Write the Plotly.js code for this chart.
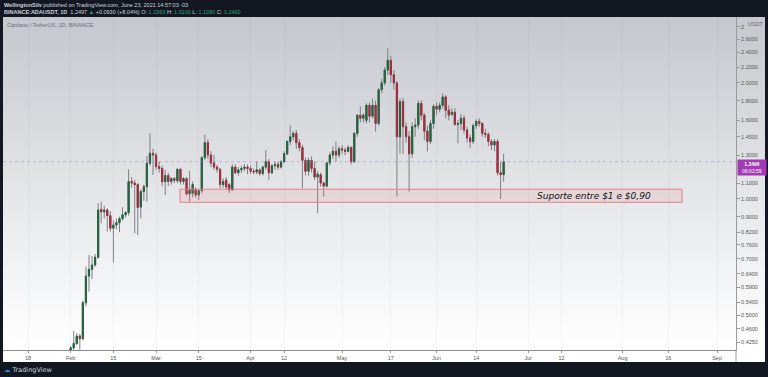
<!DOCTYPE html>
<html>
<head>
<meta charset="utf-8">
<script src="https://cdn.plot.ly/plotly-3.0.1.min.js"></script>
<style>
html,body{margin:0;padding:0;background:#131722;width:768px;height:377px;overflow:hidden;}
#pane{position:absolute;left:3px;top:17px;width:762px;height:345px;
background:linear-gradient(to bottom,#c4c7cd 0%,#dadce0 35%,#edeef0 65%,#ffffff 96%);}
#chart{position:absolute;left:0;top:0;width:768px;height:377px;}
</style>
</head>
<body>
<div id="pane"></div>
<div id="chart"></div>
<script>
const dates = [
'2021-02-01','2021-02-02','2021-02-03','2021-02-04','2021-02-05','2021-02-06','2021-02-07','2021-02-08','2021-02-09','2021-02-10',
'2021-02-11','2021-02-12','2021-02-13','2021-02-14','2021-02-15','2021-02-16','2021-02-17','2021-02-18','2021-02-19','2021-02-20',
'2021-02-21','2021-02-22','2021-02-23','2021-02-24','2021-02-25','2021-02-26','2021-02-27','2021-02-28',
'2021-03-01','2021-03-02','2021-03-03','2021-03-04','2021-03-05','2021-03-06','2021-03-07','2021-03-08','2021-03-09','2021-03-10',
'2021-03-11','2021-03-12','2021-03-13','2021-03-14','2021-03-15','2021-03-16','2021-03-17','2021-03-18','2021-03-19','2021-03-20',
'2021-03-21','2021-03-22','2021-03-23','2021-03-24','2021-03-25','2021-03-26','2021-03-27','2021-03-28','2021-03-29','2021-03-30','2021-03-31',
'2021-04-01','2021-04-02','2021-04-03','2021-04-04','2021-04-05','2021-04-06','2021-04-07','2021-04-08','2021-04-09','2021-04-10',
'2021-04-11','2021-04-12','2021-04-13','2021-04-14','2021-04-15','2021-04-16','2021-04-17','2021-04-18','2021-04-19','2021-04-20',
'2021-04-21','2021-04-22','2021-04-23','2021-04-24','2021-04-25','2021-04-26','2021-04-27','2021-04-28','2021-04-29','2021-04-30',
'2021-05-01','2021-05-02','2021-05-03','2021-05-04','2021-05-05','2021-05-06','2021-05-07','2021-05-08','2021-05-09','2021-05-10',
'2021-05-11','2021-05-12','2021-05-13','2021-05-14','2021-05-15','2021-05-16','2021-05-17','2021-05-18','2021-05-19','2021-05-20',
'2021-05-21','2021-05-22','2021-05-23','2021-05-24','2021-05-25','2021-05-26','2021-05-27','2021-05-28','2021-05-29','2021-05-30','2021-05-31',
'2021-06-01','2021-06-02','2021-06-03','2021-06-04','2021-06-05','2021-06-06','2021-06-07','2021-06-08','2021-06-09','2021-06-10',
'2021-06-11','2021-06-12','2021-06-13','2021-06-14','2021-06-15','2021-06-16','2021-06-17','2021-06-18','2021-06-19','2021-06-20',
'2021-06-21','2021-06-22','2021-06-23'];

const openPrices = [
0.395,0.411,0.422,0.441,0.434,0.538,0.631,0.657,0.674,0.706,
0.940,0.926,0.936,0.905,0.840,0.856,0.868,0.889,0.910,0.922,
1.109,1.100,1.090,0.953,1.045,1.076,1.238,1.314,
1.300,1.213,1.200,1.109,1.150,1.110,1.130,1.115,1.194,1.110,
1.130,1.030,1.035,1.060,1.024,1.050,1.280,1.400,1.300,1.240,
1.210,1.195,1.090,1.120,1.090,1.055,1.210,1.170,1.190,1.200,1.210,
1.200,1.180,1.175,1.190,1.165,1.210,1.250,1.170,1.220,1.230,
1.210,1.250,1.310,1.410,1.450,1.480,1.400,1.360,1.260,1.180,
1.260,1.200,1.140,1.155,1.100,1.080,1.240,1.300,1.330,1.300,
1.350,1.340,1.330,1.360,1.250,1.480,1.650,1.620,1.600,1.750,
1.640,1.750,1.570,1.920,2.000,2.160,2.290,2.100,2.000,1.450,
1.790,1.540,1.450,1.310,1.540,1.555,1.770,1.650,1.500,1.410,1.570,
1.740,1.710,1.750,1.840,1.700,1.660,1.680,1.560,1.570,1.620,
1.510,1.440,1.410,1.550,1.590,1.570,1.480,1.470,1.410,1.380,
1.410,1.170,1.1563];

const highPrices = [
0.415,0.455,0.449,0.447,0.545,0.667,0.716,0.711,0.720,0.975,
0.984,0.960,0.946,0.930,0.880,0.890,0.900,0.952,0.930,1.194,
1.140,1.120,1.100,1.060,1.090,1.293,1.481,1.350,
1.320,1.250,1.220,1.190,1.170,1.140,1.140,1.200,1.205,1.140,
1.140,1.184,1.110,1.070,1.060,1.290,1.470,1.430,1.330,1.300,
1.225,1.200,1.130,1.140,1.100,1.230,1.230,1.210,1.220,1.230,1.230,
1.220,1.200,1.250,1.200,1.220,1.340,1.270,1.230,1.250,1.250,
1.260,1.330,1.420,1.556,1.500,1.510,1.430,1.380,1.280,1.280,
1.290,1.250,1.180,1.170,1.110,1.250,1.320,1.370,1.410,1.370,
1.380,1.360,1.380,1.370,1.490,1.660,1.740,1.670,1.770,1.780,
1.820,1.800,1.940,2.050,2.200,2.460,2.350,2.160,2.020,1.820,
1.830,1.580,1.500,1.580,1.620,1.800,1.800,1.670,1.550,1.600,1.760,
1.780,1.780,1.880,1.860,1.750,1.720,1.720,1.600,1.660,1.650,
1.540,1.470,1.570,1.610,1.620,1.580,1.520,1.490,1.430,1.430,
1.430,1.250,1.310];

const lowPrices = [
0.390,0.400,0.418,0.406,0.430,0.526,0.575,0.620,0.668,0.700,
0.865,0.890,0.823,0.823,0.684,0.835,0.820,0.880,0.895,0.905,
1.070,0.815,0.806,0.891,0.990,0.984,1.220,1.154,
1.190,1.170,1.080,1.024,1.080,1.090,1.100,1.100,1.090,1.090,
1.020,0.984,1.010,1.010,0.994,1.035,1.260,1.270,1.210,1.190,
1.170,1.065,1.070,1.060,1.035,1.050,1.160,1.150,1.170,1.180,1.160,
1.160,1.160,1.160,1.150,1.150,1.190,1.120,1.160,1.190,1.190,
1.200,1.240,1.300,1.380,1.420,1.350,1.330,1.066,1.150,1.150,
1.170,1.120,0.918,1.075,1.014,1.070,1.220,1.270,1.250,1.280,
1.310,1.300,1.320,1.230,1.240,1.450,1.580,1.580,1.570,1.580,
1.620,1.495,1.550,1.880,1.970,2.100,2.000,1.920,1.014,1.310,
1.310,1.400,1.045,1.280,1.450,1.520,1.600,1.420,1.330,1.390,1.520,
1.650,1.680,1.720,1.620,1.600,1.640,1.550,1.395,1.510,1.480,
1.400,1.354,1.390,1.520,1.540,1.450,1.440,1.370,1.340,1.330,
1.150,1.000,1.108];

const closePrices = [
0.411,0.422,0.441,0.434,0.538,0.631,0.657,0.674,0.706,0.936,
0.926,0.936,0.905,0.840,0.856,0.868,0.889,0.910,0.922,1.109,
1.100,1.090,0.951,1.045,1.076,1.238,1.314,1.300,
1.213,1.200,1.109,1.150,1.110,1.130,1.118,1.194,1.110,1.130,
1.030,1.060,1.090,1.024,1.050,1.280,1.400,1.300,1.240,1.210,
1.195,1.090,1.110,1.075,1.055,1.210,1.170,1.190,1.200,1.210,1.200,
1.180,1.175,1.190,1.165,1.210,1.250,1.170,1.220,1.230,1.210,
1.250,1.310,1.410,1.450,1.480,1.400,1.360,1.260,1.180,1.260,
1.200,1.140,1.160,1.100,1.080,1.240,1.300,1.330,1.300,1.350,
1.340,1.330,1.360,1.250,1.480,1.650,1.620,1.650,1.750,1.640,
1.750,1.570,1.920,2.000,2.160,2.290,2.100,2.000,1.450,1.790,
1.540,1.450,1.310,1.540,1.555,1.770,1.650,1.500,1.410,1.570,1.740,
1.710,1.750,1.840,1.700,1.650,1.680,1.560,1.570,1.620,1.510,
1.440,1.410,1.550,1.590,1.570,1.480,1.470,1.410,1.380,1.410,
1.170,1.156,1.249];

const xTickVals = ['2021-01-18','2021-02-01','2021-02-15','2021-03-01','2021-03-15','2021-04-01','2021-04-12','2021-05-01','2021-05-17','2021-06-01','2021-06-14','2021-07-01','2021-07-12','2021-08-01','2021-08-16','2021-09-01'];
const xTickText = ['18','Feb','15','Mar','15','Apr','12','May','17','Jun','14','Jul','12','Aug','16','Sep'];
const yTickVals = [0.425,0.46,0.5,0.54,0.59,0.64,0.70,0.76,0.82,0.90,1.0,1.1,1.3,1.45,1.6,1.8,2.0,2.2,2.4,2.6,2.8];
const yTickText = ['0.4250','0.4600','0.5000','0.5400','0.5900','0.6400','0.7000','0.7600','0.8200','0.9000','1.0000','1.1000','1.3000','1.4500','1.6000','1.8000','2.0000','2.2000','2.4000','2.6000','2'];

const lastPrice = 1.2496;
const supportLow = 0.9805, supportHigh = 1.06;

const GREEN = '#27633f', RED = '#a12d3d', WICK = '#7d7f84';
const bodyHigh = openPrices.map((o,i)=>Math.max(o,closePrices[i]));
const bodyLow = openPrices.map((o,i)=>Math.min(o,closePrices[i]));

const wicks = {
  type:'candlestick', x:dates, open:openPrices, high:highPrices, low:lowPrices, close:closePrices,
  increasing:{line:{color:WICK,width:1},fillcolor:WICK},
  decreasing:{line:{color:WICK,width:1},fillcolor:WICK},
  whiskerwidth:0, hoverinfo:'skip'
};
const bodies = {
  type:'candlestick', x:dates, open:openPrices, high:bodyHigh, low:bodyLow, close:closePrices,
  increasing:{line:{color:GREEN,width:1},fillcolor:GREEN},
  decreasing:{line:{color:RED,width:1},fillcolor:RED},
  whiskerwidth:0, hoverinfo:'skip'
};

const L = v=>Math.log10(v);
const Y0 = L(0.4057), Y1 = L(2.966);
const yPaper = v=>(L(v)-Y0)/(Y1-Y0);
const FONT = 'Liberation Sans, Arial, sans-serif';
const px2x = p=>(p-3)/733, px2y = p=>(350-p)/333;

const layout = {
  width:768, height:377,
  margin:{l:3,r:32,t:17,b:27,pad:0},
  paper_bgcolor:'rgba(0,0,0,0)', plot_bgcolor:'rgba(0,0,0,0)',
  showlegend:false, boxgap:0.45,
  font:{family:FONT,size:5.5,color:'#555'},
  xaxis:{type:'date', range:['2021-01-09 19:12','2021-09-07 05:00'],
    tickmode:'array', tickvals:xTickVals, ticktext:xTickText,
    ticks:'outside', ticklen:2, tickcolor:'#999', tickfont:{family:FONT,size:5.5,color:'#555'},
    showline:true, linecolor:'#8c8c8c', linewidth:1, showgrid:true, gridcolor:'rgba(0,0,0,0.035)',
    zeroline:false, rangeslider:{visible:false}, automargin:false, fixedrange:true},
  yaxis:{type:'log', side:'right', range:[Y0,Y1],
    tickmode:'array', tickvals:yTickVals, ticktext:yTickText,
    ticks:'outside', ticklen:3, tickcolor:'#999', tickfont:{family:FONT,size:5.5,color:'#555'},
    showline:true, linecolor:'#9a9a9a', linewidth:1, showgrid:false, zeroline:false,
    automargin:false, fixedrange:true},
  shapes:[
    {type:'rect', xref:'x', yref:'paper', x0:'2021-03-08 20:00', x1:'2021-08-20 12:00', y0:yPaper(supportLow), y1:yPaper(supportHigh),
     fillcolor:'rgba(236,120,130,0.15)', line:{color:'#e47f86',width:1}},
    {type:'line', xref:'paper', yref:'paper', x0:0, x1:1, y0:yPaper(lastPrice), y1:yPaper(lastPrice),
     line:{color:'rgba(165,125,195,0.5)',width:1,dash:'dot'}},
    {type:'line', xref:'paper', yref:'paper', x0:1, x1:1, y0:0, y1:px2y(362),
     line:{color:'#9a9a9a',width:1}}
  ],
  annotations:[
    {xref:'x', yref:'y', x:'2021-07-22 14:00', y:L(1.021), text:'Suporte entre $1 e $0,90', showarrow:false,
     font:{family:'DejaVu Sans, sans-serif', size:9, color:'#111111', style:'italic'}},
    {xref:'paper', yref:'y', x:1, y:L(lastPrice), xanchor:'left', yanchor:'top', yshift:3, xshift:0.5,
     text:'<b>1.2496</b><br>06:02:59', showarrow:false, bgcolor:'#a23bb4', borderpad:1, width:26, align:'center',
     font:{family:FONT,size:5,color:'#ffffff'}},
    {xref:'paper', yref:'paper', x:px2x(746), y:px2y(24), xanchor:'left', yanchor:'middle', text:'USDT',
     showarrow:false, font:{family:FONT,size:5.5,color:'#666'}},
    {xref:'paper', yref:'paper', x:px2x(5), y:px2y(25), xanchor:'left', yanchor:'middle',
     text:'Cardano / TetherUS, 1D, BINANCE', showarrow:false, font:{family:FONT,size:5.5,color:'#6b6f7a'}},
    {xref:'paper', yref:'paper', x:px2x(2), y:px2y(5), xanchor:'left', yanchor:'middle',
     text:'<b>WellingtonSilv</b> published on TradingView.com, June 23, 2021 14:57:03 -03', showarrow:false,
     font:{family:FONT,size:5.5,color:'#d1d4dc'}},
    {xref:'paper', yref:'paper', x:px2x(2), y:px2y(12), xanchor:'left', yanchor:'middle',
     text:'<b>BINANCE:ADAUSDT, 1D</b>  1.2497 <span style="color:#2fa37c">▲</span> +0.0930 (+8.04%) O: <span style="color:#2fa37c">1.1563</span> H: <span style="color:#2fa37c">1.3100</span> L: <span style="color:#2fa37c">1.1080</span> C: <span style="color:#2fa37c">1.2490</span>',
     showarrow:false, font:{family:FONT,size:5.5,color:'#d1d4dc'}},
    {xref:'paper', yref:'paper', x:px2x(2), y:px2y(370), xanchor:'left', yanchor:'middle',
     text:'<span style="color:#2f7ee0">☁</span> TradingView', showarrow:false,
     font:{family:'DejaVu Sans, sans-serif', size:6.5, color:'#d1d4dc'}}
  ]
};

Plotly.newPlot('chart',[wicks,bodies],layout,{staticPlot:true,displayModeBar:false});
</script>
</body>
</html>
